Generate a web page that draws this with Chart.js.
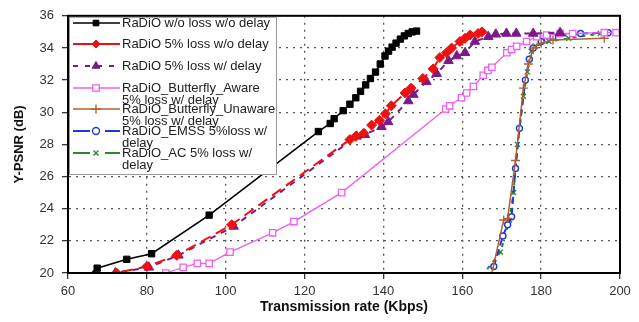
<!DOCTYPE html>
<html>
<head>
<meta charset="utf-8">
<script src="https://cdn.jsdelivr.net/npm/chart.js@4/dist/chart.umd.min.js"></script>
<style>
  html, body { margin: 0; padding: 0; background: #fff; }
  #wrap { width: 639px; height: 322px; position: relative; }
</style>
</head>
<body>
<div id="wrap"><canvas id="psnrChart" width="639" height="322"></canvas></div>
<script>
// values (x = Kbps, y = dB)
const xTicks = [60, 80, 100, 120, 140, 160, 180, 200];
const yTicks = [20, 22, 24, 26, 28, 30, 32, 34, 36];

const noLossX = [64, 67.4, 74.9, 81.2, 95.8, 123.5, 126.5, 127.5, 129.8, 131.5, 133, 134.2, 135.5, 136.7, 138, 139.2, 140.4, 141.3, 142.2, 143.2, 144.3, 145.3, 146.3, 147.3, 148.4];
const noLossY = [19.6, 20.3, 20.85, 21.2, 23.6, 28.8, 29.3, 29.6, 30.1, 30.5, 30.9, 31.3, 31.7, 32.1, 32.5, 33.0, 33.5, 33.8, 34.05, 34.3, 34.55, 34.75, 34.9, 35.0, 35.05];

const lossX = [69.5, 72.3, 80, 87.6, 101.5, 131.5, 133, 135, 137, 139, 140.5, 142, 145.5, 147, 150, 152.6, 154.3, 156, 157.3, 159.4, 160.7, 162, 164, 165];
const lossY = [19.85, 20.0, 20.4, 21.1, 23.0, 28.3, 28.5, 28.7, 29.2, 29.5, 29.9, 30.4, 31.2, 31.5, 32.1, 32.7, 33.4, 33.7, 34.0, 34.4, 34.6, 34.8, 34.9, 35.0];

const delayX = [69.5, 72, 80.5, 88, 102, 133.2, 135.3, 139.5, 141.2, 146.3, 147.6, 150.9, 153.5, 156.5, 158.6, 160.7, 163.2, 166.6, 168.5, 171.2, 173.7, 178, 184.8];
const delayY = [19.85, 20.0, 20.35, 21.1, 22.9, 28.5, 28.6, 29.1, 29.4, 30.7, 31.1, 31.9, 32.4, 33.2, 33.5, 33.7, 34.4, 34.7, 34.85, 34.9, 34.9, 34.9, 34.95];

const awareX = [84.8, 89.2, 92.8, 95.8, 101.1, 111.9, 117.3, 129.4, 155.8, 156.8, 159.8, 161.1, 162.8, 165.3, 166.5, 167.5, 171.3, 172.5, 173.8, 176.3, 178.9, 181.4, 184.8, 188, 196, 199];
const awareY = [20.0, 20.35, 20.6, 20.6, 21.3, 22.5, 23.2, 25.0, 30.2, 30.4, 30.9, 31.2, 31.6, 32.3, 32.6, 32.8, 33.7, 33.9, 34.1, 34.4, 34.7, 34.8, 34.9, 34.9, 34.95, 34.95];

const unawareX = [167.4, 170.5, 171.5, 173.5, 175.5, 176.8, 178, 180, 183, 196];
const unawareY = [19.9, 23.3, 23.4, 27.0, 31.5, 33.0, 34.0, 34.3, 34.5, 34.6];

const emssX = [168, 170.3, 171.5, 172.5, 173.5, 174.5, 176, 177, 178, 180, 183, 190, 197];
const emssY = [20.4, 22.3, 23.0, 23.5, 26.5, 29.0, 32.0, 33.3, 34.0, 34.4, 34.7, 34.9, 34.95];

const acX = [164.9, 169.7, 172, 173, 174, 175.5, 176.5, 177.5, 178.5, 182, 187, 195];
const acY = [19.8, 21.3, 23.3, 25.0, 28.0, 31.0, 32.5, 33.8, 34.1, 34.4, 34.6, 34.9];

function pts(xs, ys) {
  return xs.map((x, i) => ({ x, y: ys[i] }));
}

function radiusAbove(r) {
  return ctx => (ctx.raw && ctx.raw.y < 20 ? 0 : r);
}

// legend drawn inside the plot, line sample + marker + (multi line) text
const legendBox = {
  id: "legendBox",
  afterDatasetsDraw(chart) {
    const ctx = chart.ctx;
    const area = chart.chartArea;
    const left = area.left + 1, top = area.top + 1, right = 277, bottom = 175;
    ctx.save();
    ctx.fillStyle = "#fff";
    ctx.fillRect(left, top, right - left, bottom - top);
    ctx.strokeStyle = "#999";
    ctx.lineWidth = 1;
    ctx.strokeRect(left + 0.5, top + 0.5, right - left - 1, bottom - top - 1);

    const rowY = [23, 44, 66, 88, 109, 131, 153];
    ctx.font = "13px 'Liberation Sans', Arial, sans-serif";
    ctx.textBaseline = "middle";
    chart.data.datasets.forEach((ds, i) => {
      const y = rowY[i];
      ctx.strokeStyle = ds.borderColor;
      ctx.lineWidth = ds.borderWidth;
      ctx.setLineDash(ds.legendDash || []);
      ctx.beginPath();
      ctx.moveTo(73, y);
      ctx.lineTo(120, y);
      ctx.stroke();
      ctx.setLineDash([]);
      if (Chart.helpers && Chart.helpers.drawPoint) {
        ctx.fillStyle = ds.pointBackgroundColor;
        ctx.strokeStyle = ds.pointBorderColor;
        ctx.lineWidth = ds.pointBorderWidth;
        Chart.helpers.drawPoint(ctx, {
          pointStyle: ds.pointStyle,
          radius: ds.legendRadius,
          rotation: 0,
          borderWidth: ds.pointBorderWidth
        }, 96, y);
      }
      ctx.fillStyle = "#222";
      ds.label.split("\n").forEach((line, k) => {
        ctx.fillText(line, 122, y + k * 12);
      });
    });
    ctx.restore();
  },
  afterDraw(chart) {
    const ctx = chart.ctx;
    const a = chart.chartArea;
    ctx.save();
    ctx.strokeStyle = "#000";
    ctx.lineWidth = 2;
    ctx.strokeRect(a.left, a.top, a.right - a.left, a.bottom - a.top);
    ctx.restore();
  }
};

function series(label, xs, ys, opts) {
  return Object.assign({
    label,
    data: pts(xs, ys),
    showLine: true,
    fill: false,
    tension: 0,
    pointBorderWidth: 1,
    pointHoverRadius: 0
  }, opts);
}

const datasets = [
  series("RaDiO w/o loss w/o delay", noLossX, noLossY, {
    borderColor: "#000", borderWidth: 1.6,
    pointStyle: "rect", pointRadius: radiusAbove(4.5), legendRadius: 4,
    pointBackgroundColor: "#000", pointBorderColor: "#000"
  }),
  series("RaDiO 5% loss w/o delay", lossX, lossY, {
    borderColor: "#ee1111", borderWidth: 2, borderDash: [11, 6],
    pointStyle: "rectRot", pointRadius: radiusAbove(5), legendRadius: 4,
    pointBackgroundColor: "#ee1111", pointBorderColor: "#ee1111", legendDash: []
  }),
  series("RaDiO 5% loss w/ delay", delayX, delayY, {
    borderColor: "#7a1a86", borderWidth: 2, borderDash: [6, 6], borderDashOffset: 8,
    pointStyle: "triangle", pointRadius: radiusAbove(5.5), legendRadius: 4.5,
    pointBackgroundColor: "#7a1a86", pointBorderColor: "#7a1a86", legendDash: [5, 7]
  }),
  series("RaDiO_Butterfly_Aware\n5% loss w/ delay", awareX, awareY, {
    borderColor: "#f25cf0", borderWidth: 1.3,
    pointStyle: "rect", pointRadius: radiusAbove(4.5), legendRadius: 4.5,
    pointBackgroundColor: "#fff", pointBorderColor: "#f25cf0", pointBorderWidth: 1.3
  }),
  series("RaDiO_Butterfly_Unaware\n5% loss w/ delay", unawareX, unawareY, {
    borderColor: "#b0602e", borderWidth: 1.5,
    pointStyle: "cross", pointRadius: radiusAbove(4.5), legendRadius: 4.5,
    pointBackgroundColor: "#b0602e", pointBorderColor: "#b0602e", pointBorderWidth: 1.4
  }),
  series("RaDiO_EMSS 5%loss w/\ndelay", emssX, emssY, {
    borderColor: "#1c3ad8", borderWidth: 2, borderDash: [7, 4],
    pointStyle: "circle", pointRadius: radiusAbove(3), legendRadius: 3.5,
    pointBackgroundColor: "#fff", pointBorderColor: "#1c3ad8", pointBorderWidth: 1.4,
    legendDash: [17, 15]
  }),
  series("RaDiO_AC 5% loss w/\ndelay", acX, acY, {
    borderColor: "#2c8a2c", borderWidth: 2, borderDash: [4, 5],
    pointStyle: "crossRot", pointRadius: radiusAbove(3.5), legendRadius: 3.5,
    pointBackgroundColor: "#2c8a2c", pointBorderColor: "#2c8a2c", pointBorderWidth: 1.4,
    legendDash: [17, 15]
  })
];

const gridStyle = {
  color: "#555",
  lineWidth: 1.3,
  tickLength: 6,
  tickColor: "#333"
};
const borderStyle = { display: true, color: "#000", width: 2, dash: [2, 5] };

new Chart(document.getElementById("psnrChart"), {
  type: "scatter",
  data: { datasets },
  options: {
    responsive: false,
    animation: false,
    events: [],
    layout: { padding: { top: 15, right: 19, left: 0, bottom: 0 } },
    plugins: { legend: { display: false }, tooltip: { enabled: false } },
    scales: {
      x: {
        type: "linear",
        min: xTicks[0],
        max: xTicks[xTicks.length - 1],
        afterBuildTicks: s => { s.ticks = xTicks.map(v => ({ value: v })); },
        afterFit: s => { s.height = 49; },
        ticks: { color: "#333", padding: 5, font: { family: "'Liberation Sans', Arial", size: 13 } },
        grid: gridStyle,
        border: borderStyle,
        title: {
          display: true,
          text: "Transmission rate (Kbps)",
          color: "#111",
          padding: { top: 0, bottom: 6 },
          font: { family: "'Liberation Sans', Arial", size: 14, weight: "bold" }
        }
      },
      y: {
        type: "linear",
        min: yTicks[0],
        max: yTicks[yTicks.length - 1],
        afterBuildTicks: s => { s.ticks = yTicks.map(v => ({ value: v })); },
        afterFit: s => { s.width = 68; },
        ticks: { color: "#333", padding: 8, font: { family: "'Liberation Sans', Arial", size: 13 } },
        grid: gridStyle,
        border: borderStyle,
        title: {
          display: true,
          text: "Y-PSNR (dB)",
          color: "#111",
          padding: { top: 12, bottom: 0 },
          font: { family: "'Liberation Sans', Arial", size: 13, weight: "bold" }
        }
      }
    }
  },
  plugins: [legendBox]
});
</script>
</body>
</html>
